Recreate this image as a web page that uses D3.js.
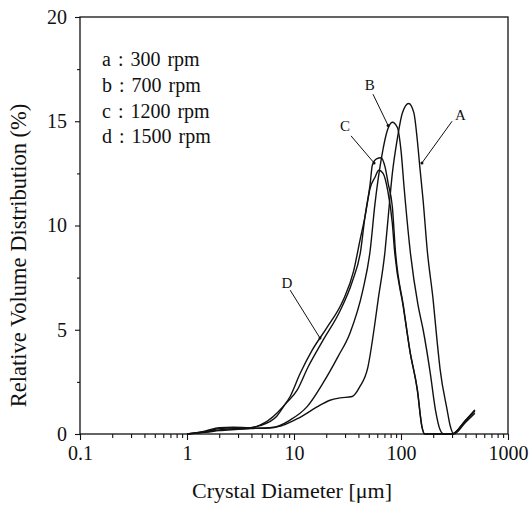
<!DOCTYPE html>
<meta charset="utf-8">
<script src="https://d3js.org/d3.v7.min.js"></script>
<style>
  body { margin: 0; background: #fff; }
  text { font-family: "Liberation Serif", "Times New Roman", serif; fill: #111; }
</style>
<div id="chart"></div>
<script>

// curves: crystal diameter (um) and relative volume (%)
var dA = [1, 1.5, 2, 3, 3.9, 6.9, 11.4, 16.4, 21.7, 27, 35, 41, 49, 57, 61, 71, 75, 83, 92, 103, 118, 132, 142, 150, 161, 176, 200, 217, 232, 270, 287, 312, 400, 490];
var vA = [0, 0.08, 0.16, 0.22, 0.26, 0.34, 0.8, 1.3, 1.62, 1.73, 1.8, 2.25, 3.2, 5.3, 6.4, 8.8, 10.1, 12.5, 14.1, 15.4, 15.85, 15.4, 14.1, 12.8, 11.2, 8.8, 6.4, 4.5, 3.1, 1.15, 0.43, 0, 0.55, 1.0];

var dB = [1, 1.5, 2, 2.7, 4, 6, 9.2, 13.2, 18.7, 25.7, 33.4, 44, 51.5, 57, 66, 75, 83, 92.5, 100, 107, 123, 144, 161, 188, 210, 232, 250, 300, 400, 490];
var vB = [0, 0.1, 0.2, 0.25, 0.27, 0.29, 0.67, 1.3, 2.45, 3.7, 4.85, 6.9, 8.8, 11.0, 13.3, 14.6, 14.95, 14.7, 13.6, 11.8, 8.6, 6.2, 5.0, 2.9, 1.15, 0.2, 0, 0, 0.62, 1.1];

var dC = [1, 1.5, 2, 2.7, 3.9, 4.8, 6.9, 8.2, 10.7, 13.5, 18.7, 26.9, 35, 42, 46, 51.5, 54, 59, 65, 71, 76, 83, 88.6, 105.6, 121, 142.5, 157, 168, 300, 400, 490];
var vC = [0, 0.12, 0.26, 0.3, 0.3, 0.4, 0.85, 1.4, 2.1, 3.2, 4.5, 5.9, 7.3, 8.8, 10.4, 12.0, 12.9, 13.2, 13.25, 12.8, 12.0, 10.9, 8.8, 6.1, 4.0, 2.1, 0.34, 0, 0, 0.65, 1.15];

var dD = [1, 1.5, 2, 2.7, 3.9, 4.8, 6.9, 9.2, 11.4, 14.7, 20.3, 28.7, 36, 41.4, 46, 51.5, 57, 62, 68, 75, 83, 87, 105, 121, 142, 157, 165, 300, 400, 490];
var vD = [0, 0.15, 0.3, 0.33, 0.3, 0.43, 1.0, 1.8, 2.9, 4.0, 5.1, 6.4, 7.8, 9.3, 10.4, 11.8, 12.3, 12.65, 12.5, 11.7, 10.1, 8.8, 6.1, 4.0, 2.1, 0.34, 0, 0, 0.65, 1.15];

// arrow labels: letter, label position, arrow start, arrow end (data units)
var arrowNames = ["A", "B", "C", "D"];
var arrowLabel = [[360, 15.3], [51, 16.75], [30, 14.8], [8.6, 7.25]];
var arrowFrom = [[300, 15.0], [54.7, 16.3], [34.1, 14.3], [9.2, 6.9]];
var arrowTo = [[157, 13.0], [75.7, 14.8], [56, 13.0], [17.5, 4.6]];

var legendLines = ["a : 300 rpm", "b : 700 rpm", "c : 1200 rpm", "d : 1500 rpm"];

var xMajor = [0.1, 1, 10, 100, 1000];
var xMinor = [];
for (var k = -1; k < 3; k++) {
  for (var m = 2; m < 10; m++) xMinor.push(m * Math.pow(10, k));
}
var yMajor = [0, 5, 10, 15, 20];
var yMinor = [2.5, 7.5, 12.5, 17.5];

var margin = {top: 17, right: 22, bottom: 73, left: 80},
  width = 530 - margin.left - margin.right,
  height = 507 - margin.top - margin.bottom;

var svg = d3.select("#chart")
  .append("svg")
    .attr("width", 530)
    .attr("height", 507)
  .append("g")
    .attr("transform", "translate(" + margin.left + "," + margin.top + ")");

var x = d3.scaleLog().domain([0.1, 1000]).range([0, width]);
var y = d3.scaleLinear().domain([0, 20]).range([height, 0]);

// frame
svg.append("rect")
  .attr("width", width)
  .attr("height", height)
  .attr("fill", "none")
  .attr("stroke", "#111")
  .attr("stroke-width", 1.3);

// x axis
var gx = svg.append("g")
  .attr("transform", "translate(0," + height + ")")
  .call(d3.axisBottom(x).tickValues(xMajor).tickSize(6).tickPadding(6)
    .tickSizeOuter(0).tickFormat(function(d) { return d < 1 ? "0.1" : d3.format("d")(d); }));
gx.append("g")
  .call(d3.axisBottom(x).tickValues(xMinor).tickSize(4).tickSizeOuter(0).tickFormat(""));

// y axis
var gy = svg.append("g")
  .call(d3.axisLeft(y).tickValues(yMajor).tickSize(5).tickPadding(8).tickSizeOuter(0));
gy.append("g")
  .call(d3.axisLeft(y).tickValues(yMinor).tickSize(3).tickSizeOuter(0).tickFormat(""));

svg.selectAll(".domain").remove();
svg.selectAll(".tick line").attr("stroke", "#111").attr("stroke-width", 1.1);
svg.selectAll(".tick text")
  .style("font-family", "'Liberation Serif', serif")
  .style("font-size", "20px")
  .attr("fill", "#111");

// axis titles
svg.append("text")
  .attr("x", width / 2 - 2)
  .attr("y", height + 64)
  .attr("text-anchor", "middle")
  .style("font-size", "22px")
  .text("Crystal Diameter [\u03bcm]");

svg.append("text")
  .attr("transform", "translate(" + (-54) + "," + (height / 2 + 30) + ") rotate(-90)")
  .attr("text-anchor", "middle")
  .style("font-size", "22.5px")
  .text("Relative Volume Distribution (%)");

// curves
var series = [
  {d: dA, v: vA},
  {d: dB, v: vB},
  {d: dC, v: vC},
  {d: dD, v: vD}
];

var line = d3.line()
  .x(function(p) { return x(p[0]); })
  .y(function(p) { return y(p[1]); })
  .curve(d3.curveMonotoneX);

svg.selectAll("path.curve")
  .data(series)
  .enter()
  .append("path")
    .attr("class", "curve")
    .attr("d", function(s) { return line(d3.zip(s.d, s.v)); })
    .attr("fill", "none")
    .attr("stroke", "#111")
    .attr("stroke-width", 1.4);

// arrows with letters
svg.selectAll("line.arrow")
  .data(arrowNames)
  .enter()
  .append("line")
    .attr("class", "arrow")
    .attr("x1", function(d, i) { return x(arrowFrom[i][0]); })
    .attr("y1", function(d, i) { return y(arrowFrom[i][1]); })
    .attr("x2", function(d, i) { return x(arrowTo[i][0]); })
    .attr("y2", function(d, i) { return y(arrowTo[i][1]); })
    .attr("stroke", "#111")
    .attr("stroke-width", 1);

svg.selectAll("circle.tip")
  .data(arrowNames)
  .enter()
  .append("circle")
    .attr("cx", function(d, i) { return x(arrowTo[i][0]); })
    .attr("cy", function(d, i) { return y(arrowTo[i][1]); })
    .attr("r", 1.5)
    .attr("fill", "#111");

svg.selectAll("text.letter")
  .data(arrowNames)
  .enter()
  .append("text")
    .attr("x", function(d, i) { return x(arrowLabel[i][0]); })
    .attr("y", function(d, i) { return y(arrowLabel[i][1]); })
    .attr("text-anchor", "middle")
    .attr("dy", "0.35em")
    .style("font-size", "15px")
    .text(function(d) { return d; });

// legend text
svg.selectAll("text.legend")
  .data(legendLines)
  .enter()
  .append("text")
    .attr("x", 22)
    .attr("y", function(d, i) { return 49 + i * 25.8; })
    .style("font-size", "20px")
    .style("word-spacing", "2px")
    .text(function(d) { return d; });

</script>
